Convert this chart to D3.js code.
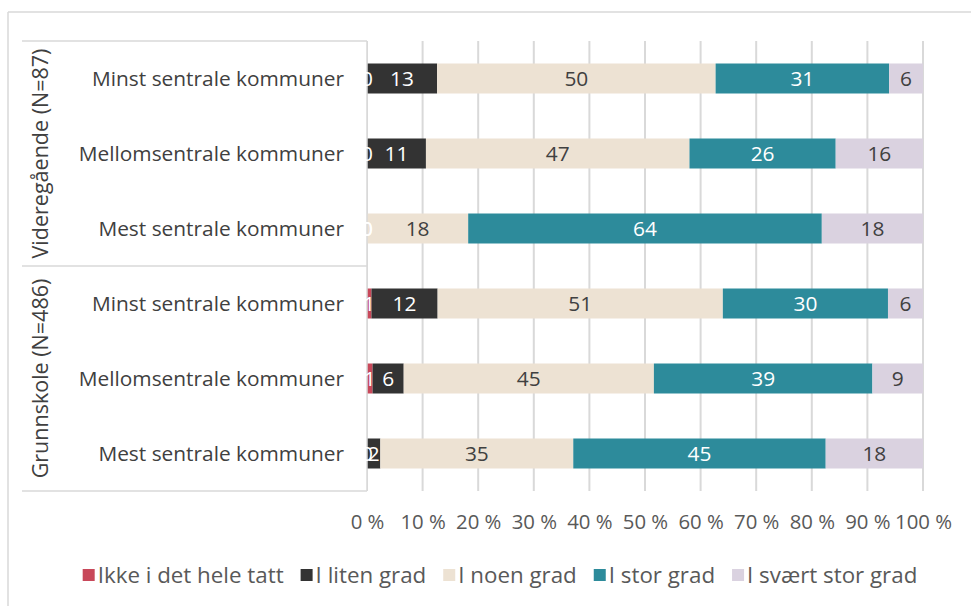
<!DOCTYPE html>
<html>
<head>
<meta charset="utf-8">
<script src="https://cdn.jsdelivr.net/npm/d3@7/dist/d3.min.js"></script>
<style>
  html, body { margin: 0; padding: 0; background: #fff; }
  svg { display: block; font-family: "Open Sans", sans-serif; }
</style>
</head>
<body>
<svg id="chart" width="971" height="606"></svg>
<script>
// ---- Data ----
const groups = ["Videregående (N=87)", "Grunnskole (N=486)"];
const categories = ["Minst sentrale kommuner", "Mellomsentrale kommuner", "Mest sentrale kommuner"];
const series = ["Ikke i det hele tatt", "I liten grad", "I noen grad", "I stor grad", "I svært stor grad"];
// values per row, rows top to bottom: Vgs Minst, Vgs Mellom, Vgs Mest, Grunn Minst, Grunn Mellom, Grunn Mest
const ikkeIDetHeleTatt = [0, 0, 0, 0.8, 1.0, 0];
const iLitenGrad       = [12.6, 10.6, 0, 11.9, 5.6, 2.4];
const iNoenGrad        = [50.1, 47.4, 18.2, 51.3, 45.0, 34.7];
const iStorGrad        = [31.2, 26.3, 63.6, 29.7, 39.3, 45.4];
const iSvaertStorGrad  = [6.1, 15.7, 18.2, 6.3, 9.1, 17.5];
const tickValues = [0, 10, 20, 30, 40, 50, 60, 70, 80, 90, 100];

const seriesValues = [ikkeIDetHeleTatt, iLitenGrad, iNoenGrad, iStorGrad, iSvaertStorGrad];
const colors = ["#C8485A", "#333333", "#EDE2D3", "#2D8B9B", "#DAD2E0"];
const labelColors = ["#ffffff", "#ffffff", "#404040", "#ffffff", "#404040"];

const rows = [];
groups.forEach((g, gi) => categories.forEach((c, ci) => rows.push({ id: gi + "|" + ci, group: g, cat: c, idx: gi * 3 + ci })));
const table = rows.map(r => {
  const o = { id: r.id };
  series.forEach((s, si) => o[s] = seriesValues[si][r.idx]);
  return o;
});
const stacked = d3.stack().keys(series)(table);

// ---- Layout ----
const svg = d3.select("#chart");
const FONT = "'Open Sans', sans-serif";
function fitSize(str, target, base) {
  const t = svg.append("text").attr("font-size", base).attr("font-family", FONT).text(str);
  const w = t.node().getComputedTextLength();
  t.remove();
  return base * target / w;
}
const catSize = fitSize("Minst sentrale kommuner", 252, 20);
const grpSize = fitSize("Videregående (N=87)", 210, 20);
const tickSize = fitSize("100 %", 57, 20);
const legSize = fitSize("Ikke i det hele tatt", 186, 20);
const lblSize = catSize;

const plotTop = 41, plotBottom = 491;
const x = d3.scaleLinear().domain([0, 100]).range([367, 923]);
const y = d3.scaleBand().domain(rows.map(r => r.id)).range([plotTop, plotBottom]).paddingInner(0.6).paddingOuter(0.3);

const grid = "#D9D9D9";

// outer frame
svg.append("line").attr("x1", 8).attr("x2", 971).attr("y1", 12).attr("y2", 12).attr("stroke", grid).attr("stroke-width", 1.5);
svg.append("line").attr("x1", 8).attr("x2", 8).attr("y1", 12).attr("y2", 606).attr("stroke", grid).attr("stroke-width", 1.5);

// gridlines
svg.append("g").selectAll("line").data(tickValues).join("line")
  .attr("x1", d => x(d)).attr("x2", d => x(d))
  .attr("y1", plotTop).attr("y2", plotBottom)
  .attr("stroke", grid).attr("stroke-width", 2);

// bars
const layers = svg.append("g").selectAll("g").data(stacked).join("g")
  .attr("fill", (d, i) => colors[i]);
layers.selectAll("rect").data(d => d).join("rect")
  .attr("x", d => x(d[0]))
  .attr("width", d => x(d[1]) - x(d[0]))
  .attr("y", d => y(d.data.id))
  .attr("height", y.bandwidth());

// category panel (drawn over the plot's left edge)
const panel = svg.append("g");
panel.append("rect").attr("x", 22).attr("y", plotTop).attr("width", 367 - 22).attr("height", plotBottom - plotTop).attr("fill", "#fff");
[plotTop, (plotTop + plotBottom) / 2, plotBottom].forEach(yy =>
  panel.append("line").attr("x1", 22).attr("x2", 367).attr("y1", yy).attr("y2", yy).attr("stroke", grid).attr("stroke-width", 1.5));
panel.append("line").attr("x1", 367).attr("x2", 367).attr("y1", plotTop).attr("y2", plotBottom).attr("stroke", grid).attr("stroke-width", 1.5);

// category labels
panel.selectAll("text.cat").data(rows).join("text").attr("class", "cat")
  .attr("x", 344).attr("y", d => y(d.id) + y.bandwidth() / 2)
  .attr("dy", "0.35em").attr("text-anchor", "end")
  .attr("font-size", catSize).attr("fill", "#404040")
  .text(d => d.cat);

// group labels
const gh = (plotBottom - plotTop) / groups.length;
panel.selectAll("text.grp").data(groups).join("text").attr("class", "grp")
  .attr("transform", (d, i) => `translate(40,${plotTop + gh * i + gh / 2}) rotate(-90)`)
  .attr("dy", "0.35em").attr("text-anchor", "middle")
  .attr("font-size", grpSize).attr("fill", "#404040")
  .text(d => d);

// data labels
const fmt = d3.format(".0f");
const lblLayers = svg.append("g").selectAll("g").data(stacked).join("g")
  .attr("fill", (d, i) => labelColors[i]);
lblLayers.selectAll("text").data(d => d).join("text")
  .attr("x", d => (x(d[0]) + x(d[1])) / 2)
  .attr("y", d => y(d.data.id) + y.bandwidth() / 2)
  .attr("dy", "0.35em").attr("text-anchor", "middle")
  .attr("font-size", lblSize)
  .text(d => fmt(d[1] - d[0]));

// x axis tick labels
const axis = d3.axisBottom(x).tickValues(tickValues).tickSize(0).tickPadding(0).tickFormat(d => d + " %");
const ax = svg.append("g").attr("transform", `translate(0,${plotBottom + 31})`).call(axis);
ax.select(".domain").remove();
ax.selectAll("text").attr("font-size", tickSize).attr("fill", "#595959").attr("font-family", FONT).attr("dy", "0.35em");

// legend
const legend = svg.append("g");
let cx = 0;
const items = [];
series.forEach((s, i) => {
  const g = legend.append("g");
  g.append("rect").attr("x", 0).attr("y", -6).attr("width", 12).attr("height", 12).attr("fill", colors[i]);
  const t = g.append("text").attr("x", 15).attr("dy", "0.35em").attr("font-size", legSize).attr("fill", "#595959").text(s);
  const w = 15 + t.node().getComputedTextLength();
  items.push({ g, cx });
  cx += w + 17;
});
const totalW = cx - 17;
const startX = 500 - totalW / 2;
items.forEach(it => it.g.attr("transform", `translate(${startX + it.cx},575)`));
</script>
</body>
</html>
